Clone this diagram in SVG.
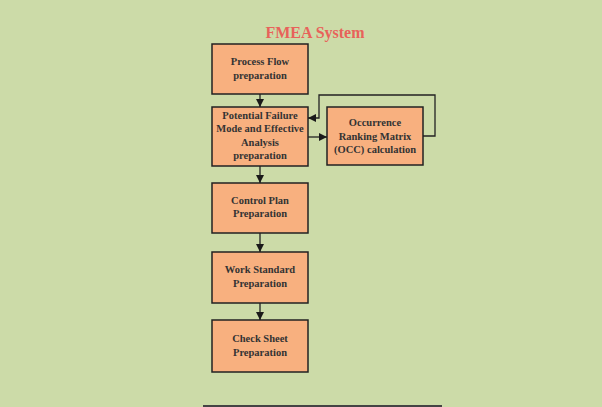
<svg xmlns="http://www.w3.org/2000/svg" width="602" height="407" viewBox="0 0 602 407">
  <defs>
    <marker id="arrow" viewBox="0 0 10 10" refX="10" refY="5" markerWidth="9" markerHeight="8" markerUnits="userSpaceOnUse" orient="auto">
      <path d="M0,0 L10,5 L0,10 z" fill="#1a1a1a"/>
    </marker>
    <style>
      .box { fill: #F8B07F; stroke: #222; stroke-width: 1.5; }
      .lbl { font-family: "Liberation Serif", "Times New Roman", serif; font-weight: bold; font-size: 10.5px; fill: #333; text-anchor: middle; }
      .edge { fill: none; stroke: #222; stroke-width: 1.3; marker-end: url(#arrow); }
    </style>
  </defs>
  <rect width="602" height="407" fill="#CCDBA8"/>
  <text x="315" y="38" font-family="Liberation Serif, 'Times New Roman', serif" font-weight="bold" font-size="16" fill="#E8625A" text-anchor="middle">FMEA System</text>

  <g id="process-flow">
    <rect class="box" x="212" y="44" width="96" height="50"/>
    <text class="lbl" x="260" y="65">Process Flow</text>
    <text class="lbl" x="260" y="79">preparation</text>
  </g>
  <g id="pfmea">
    <rect class="box" x="212" y="107" width="96" height="59"/>
    <text class="lbl" x="260" y="119">Potential Failure</text>
    <text class="lbl" x="260" y="132">Mode and Effective</text>
    <text class="lbl" x="260" y="146">Analysis</text>
    <text class="lbl" x="260" y="159">preparation</text>
  </g>
  <g id="occ">
    <rect class="box" x="327" y="107" width="96" height="58"/>
    <text class="lbl" x="375" y="126">Occurrence</text>
    <text class="lbl" x="375" y="140">Ranking Matrix</text>
    <text class="lbl" x="375" y="153">(OCC) calculation</text>
  </g>
  <g id="control-plan">
    <rect class="box" x="212" y="183" width="96" height="50"/>
    <text class="lbl" x="260" y="204">Control Plan</text>
    <text class="lbl" x="260" y="217">Preparation</text>
  </g>
  <g id="work-standard">
    <rect class="box" x="212" y="252" width="96" height="51"/>
    <text class="lbl" x="260" y="273">Work Standard</text>
    <text class="lbl" x="260" y="287">Preparation</text>
  </g>
  <g id="check-sheet">
    <rect class="box" x="212" y="320" width="96" height="52"/>
    <text class="lbl" x="260" y="342">Check Sheet</text>
    <text class="lbl" x="260" y="356">Preparation</text>
  </g>

  <g id="connectors">
    <path class="edge" d="M260,94 L260,107"/>
    <path class="edge" d="M308,137 L327,137"/>
    <path class="edge" d="M423,136 L435,136 L435,95 L319,95 L319,118 L308,118"/>
    <path class="edge" d="M260,166 L260,183"/>
    <path class="edge" d="M260,233 L260,252"/>
    <path class="edge" d="M260,303 L260,320"/>
  </g>

  <line x1="203" y1="406" x2="442" y2="406" stroke="#444" stroke-width="2"/>
</svg>
